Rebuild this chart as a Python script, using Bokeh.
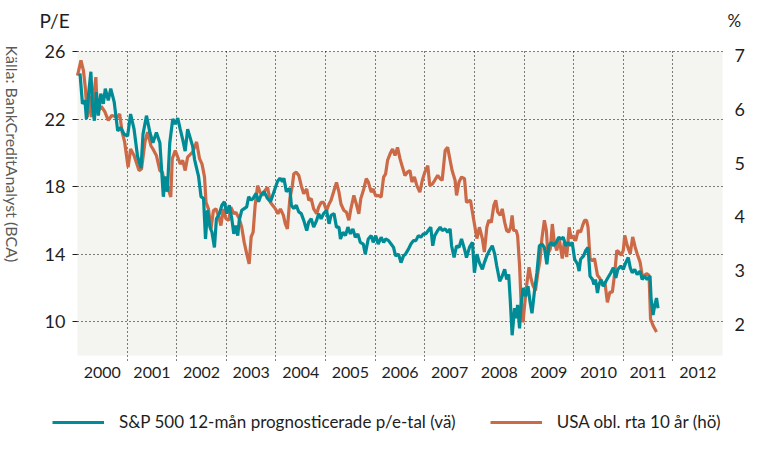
import math
from bokeh.plotting import figure
from bokeh.models import (Range1d, LinearAxis, FixedTicker, Legend, LegendItem, Label,
                          BoxAnnotation)
from bokeh.embed import file_html
from bokeh.resources import INLINE

# ---------------- data ----------------
pe_years = [
    2000.05, 2000.10, 2000.15, 2000.18, 2000.22, 2000.27, 2000.30, 2000.34, 2000.38, 2000.42,
    2000.47, 2000.52, 2000.56, 2000.62, 2000.67, 2000.74, 2000.81, 2000.87, 2000.94, 2001.01,
    2001.07, 2001.14, 2001.21, 2001.28, 2001.32, 2001.39, 2001.46, 2001.52, 2001.59, 2001.66,
    2001.73, 2001.77, 2001.81, 2001.86,
    2001.92, 2001.97, 2002.02, 2002.07, 2002.12, 2002.17, 2002.22, 2002.27, 2002.32, 2002.36,
    2002.40, 2002.44, 2002.49, 2002.54, 2002.58, 2002.62, 2002.67, 2002.71, 2002.76, 2002.80,
    2002.86, 2002.91, 2002.96, 2003.01, 2003.06, 2003.11, 2003.15, 2003.19, 2003.23, 2003.26,
    2003.31, 2003.36, 2003.41, 2003.45, 2003.50, 2003.54, 2003.60, 2003.65, 2003.70, 2003.76,
    2003.83,
    2003.89, 2003.96, 2004.03, 2004.08, 2004.13, 2004.16, 2004.21, 2004.28, 2004.31, 2004.36,
    2004.41, 2004.46, 2004.51, 2004.56, 2004.62, 2004.66, 2004.71, 2004.76, 2004.82, 2004.86,
    2004.91, 2004.96, 2005.02, 2005.07, 2005.11, 2005.17, 2005.22, 2005.27, 2005.30, 2005.35,
    2005.40, 2005.45, 2005.50, 2005.55, 2005.60, 2005.65, 2005.70, 2005.76, 2005.80,
    2005.86, 2005.92, 2005.96, 2006.01, 2006.06, 2006.12, 2006.17, 2006.21, 2006.27, 2006.32,
    2006.37, 2006.41, 2006.47, 2006.52, 2006.57, 2006.61, 2006.67, 2006.72, 2006.77, 2006.82,
    2006.87, 2006.92, 2006.97, 2007.02, 2007.07, 2007.12, 2007.16, 2007.20, 2007.26, 2007.31,
    2007.35, 2007.41, 2007.46, 2007.51, 2007.54, 2007.59, 2007.64, 2007.69, 2007.74, 2007.80,
    2007.84,
    2007.90, 2007.96, 2008.00, 2008.05, 2008.10, 2008.16, 2008.20, 2008.25, 2008.30, 2008.36,
    2008.41, 2008.45, 2008.51, 2008.56, 2008.61, 2008.65, 2008.69, 2008.72, 2008.76, 2008.81,
    2008.84, 2008.87, 2008.91, 2008.94, 2008.98, 2009.03, 2009.08, 2009.12, 2009.16, 2009.21,
    2009.26, 2009.31, 2009.36, 2009.41, 2009.46, 2009.50, 2009.55, 2009.59, 2009.65, 2009.70,
    2009.75, 2009.79,
    2009.84, 2009.89, 2009.93, 2009.97, 2010.02, 2010.08, 2010.11, 2010.14, 2010.20, 2010.24,
    2010.29, 2010.33, 2010.38, 2010.41, 2010.44, 2010.48, 2010.51, 2010.55, 2010.60, 2010.65,
    2010.69, 2010.75, 2010.80, 2010.85, 2010.89, 2010.95, 2011.00, 2011.05, 2011.10, 2011.14,
    2011.18, 2011.23, 2011.28, 2011.34, 2011.38, 2011.43, 2011.48, 2011.54, 2011.56, 2011.60,
    2011.63, 2011.67, 2011.70,
]
pe_values = [
    24.7, 22.9, 23.1, 22.0, 23.4, 24.8, 22.8, 21.9, 23.6, 22.2,
    23.5, 22.9, 23.8, 23.1, 23.8, 23.0, 21.3, 21.5, 21.1, 21.0,
    22.3, 21.4, 19.8, 19.1, 21.1, 22.2, 21.2, 20.6, 21.2, 20.6,
    17.4, 18.6, 17.7, 20.6,
    22.0, 21.7, 22.05, 21.4, 20.8, 20.1, 21.4, 20.9, 20.4, 19.6,
    19.1, 18.6, 17.4, 17.3, 14.9, 16.6, 15.6, 15.3, 14.4, 16.1,
    16.4, 16.9, 17.1, 16.4, 16.9, 16.1, 15.2, 15.7, 15.1, 16.0,
    16.6, 16.7, 16.8, 17.4, 17.2, 17.3, 17.6, 17.1, 17.5, 17.7,
    17.3,
    17.1, 17.7, 18.3, 18.5, 18.3, 18.5, 17.7, 17.9, 16.9, 16.7,
    16.9, 16.5, 16.4, 16.0, 15.4, 15.9, 16.1, 15.6, 16.0, 16.4,
    16.1, 16.4, 16.6, 15.8, 16.3, 16.4, 15.6, 15.6, 14.9, 15.3,
    15.1, 15.6, 15.2, 15.5, 15.0, 15.2, 14.7, 14.6, 14.0,
    14.9, 15.1, 14.7, 15.1, 14.6, 15.0, 14.7, 14.9, 14.8, 14.6,
    14.4, 13.9, 14.0, 13.5, 13.9, 14.0, 14.3, 14.6, 14.8, 14.8,
    15.1, 15.0, 15.2, 15.2, 15.4, 15.6, 14.5, 15.1, 15.4, 15.6,
    15.4, 15.5, 15.3, 15.5, 14.5, 13.8, 14.5, 14.4, 14.9, 14.3,
    13.8,
    14.4, 14.7, 12.9, 14.0, 13.5, 13.1, 13.5, 13.9, 14.2, 14.5,
    14.0, 13.3, 12.4, 12.7, 13.1, 12.5, 12.8, 11.4, 9.2, 10.8,
    10.2, 11.0, 9.6, 11.0, 12.0, 11.5, 12.1, 11.2, 10.5, 11.8,
    12.9, 14.5, 14.6, 14.4, 13.4, 14.5, 14.7, 14.5, 14.7, 15.0,
    14.9, 15.0,
    14.5, 14.7, 14.5, 14.7, 13.7, 13.4, 13.0, 13.7, 13.9, 14.2,
    14.4, 12.7, 12.5, 12.2, 12.5, 11.7, 12.2, 12.5, 12.1, 12.4,
    12.6, 12.9, 13.2, 12.6, 13.1, 13.3, 13.1, 13.5, 13.8, 13.2,
    12.9, 13.1, 12.8, 13.0, 12.5, 12.7, 12.5, 12.7, 11.4, 10.4,
    10.9, 11.4, 10.8,
]

yield_years = [
    2000.00, 2000.07, 2000.12, 2000.16, 2000.20, 2000.25, 2000.28, 2000.37, 2000.40, 2000.48,
    2000.55, 2000.62, 2000.69, 2000.81, 2000.85, 2000.90, 2000.95, 2001.02, 2001.07, 2001.14,
    2001.24, 2001.29, 2001.36, 2001.41, 2001.48, 2001.52, 2001.59, 2001.66, 2001.71, 2001.76,
    2001.81, 2001.88, 2001.91, 2001.97,
    2002.02, 2002.07, 2002.12, 2002.17, 2002.22, 2002.32, 2002.40, 2002.46, 2002.51, 2002.56,
    2002.59, 2002.64, 2002.69, 2002.74, 2002.79, 2002.85, 2002.89, 2002.94, 2002.99, 2003.05,
    2003.09, 2003.15, 2003.19, 2003.26, 2003.31, 2003.36, 2003.41, 2003.46, 2003.50, 2003.54,
    2003.58, 2003.63, 2003.68, 2003.73, 2003.78, 2003.83,
    2003.89, 2003.94, 2003.99, 2004.04, 2004.09, 2004.15, 2004.19, 2004.23, 2004.28, 2004.33,
    2004.36, 2004.41, 2004.46, 2004.51, 2004.56, 2004.62, 2004.66, 2004.71, 2004.76, 2004.82,
    2004.86, 2004.91, 2004.96, 2005.02, 2005.07, 2005.11, 2005.17, 2005.22, 2005.27, 2005.31,
    2005.37, 2005.42, 2005.47, 2005.51, 2005.57, 2005.62, 2005.67, 2005.71, 2005.77, 2005.82,
    2005.86, 2005.92, 2005.96, 2006.01, 2006.06, 2006.12, 2006.17, 2006.21, 2006.25, 2006.30,
    2006.35, 2006.40, 2006.45, 2006.50, 2006.55, 2006.60, 2006.65, 2006.70, 2006.74, 2006.79,
    2006.84, 2006.90, 2006.95, 2007.00, 2007.06, 2007.10, 2007.15, 2007.20, 2007.26, 2007.31,
    2007.35, 2007.41, 2007.46, 2007.51, 2007.55, 2007.61, 2007.64, 2007.69, 2007.74, 2007.80,
    2007.84,
    2007.92, 2007.96, 2008.00, 2008.05, 2008.10, 2008.16, 2008.20, 2008.25, 2008.29, 2008.34,
    2008.39, 2008.43, 2008.47, 2008.52, 2008.56, 2008.61, 2008.65, 2008.69, 2008.73, 2008.76,
    2008.79, 2008.84, 2008.87, 2008.91, 2008.94, 2008.98, 2009.01, 2009.06, 2009.10, 2009.14,
    2009.18, 2009.23, 2009.28, 2009.32, 2009.36, 2009.41, 2009.45, 2009.48, 2009.53, 2009.57,
    2009.61, 2009.66, 2009.71, 2009.77,
    2009.81, 2009.86, 2009.91, 2009.95, 2009.99, 2010.04, 2010.09, 2010.14, 2010.18, 2010.22,
    2010.26, 2010.29, 2010.33, 2010.38, 2010.42, 2010.48, 2010.53, 2010.58, 2010.63, 2010.68,
    2010.73, 2010.78, 2010.83, 2010.87, 2010.91, 2010.96, 2011.00, 2011.03, 2011.08, 2011.14,
    2011.19, 2011.24, 2011.28, 2011.34, 2011.38, 2011.43, 2011.47, 2011.52, 2011.55, 2011.60,
    2011.67,
]
yield_values = [
    6.62, 6.90, 6.71, 6.37, 5.85, 6.25, 5.85, 6.59, 5.94, 6.05,
    5.95, 5.79, 5.88, 5.85, 5.91, 5.57, 5.39, 4.92, 5.26, 5.14,
    4.86, 4.89, 5.39, 5.57, 5.32, 5.26, 5.14, 4.86, 4.83, 4.61,
    4.58, 4.37, 5.08, 5.23,
    5.11, 4.98, 5.05, 4.86, 5.11, 5.20, 5.39, 5.08, 4.98, 4.74,
    4.27, 4.15, 3.78, 4.12, 4.15, 4.00, 3.84, 4.15, 3.97, 3.94,
    4.18, 4.06, 4.09, 3.97, 3.81, 3.53, 3.32, 3.13, 3.63, 3.72,
    4.21, 4.58, 4.46, 4.40, 4.49, 4.55,
    4.27, 4.21, 4.15, 4.06, 4.15, 4.03, 3.87, 3.78, 4.34, 4.58,
    4.80, 4.83, 4.77, 4.58, 4.43, 4.52, 4.31, 4.34, 4.15, 4.06,
    4.18, 4.27, 4.27, 4.12, 4.24, 4.31, 4.49, 4.64, 4.46, 4.24,
    4.12, 4.09, 3.94, 4.15, 4.40, 4.24, 4.06, 4.34, 4.52, 4.71,
    4.65, 4.46, 4.52, 4.39, 4.40, 4.37, 4.74, 4.80, 5.05, 5.17,
    5.26, 5.14, 5.29, 5.08, 4.92, 4.77, 4.83, 4.86, 4.65, 4.74,
    4.58, 4.46, 4.68, 4.83, 4.95, 4.58, 4.61, 4.68, 4.77, 4.71,
    4.68, 5.23, 5.29, 5.05, 4.86, 4.68, 4.40, 4.65, 4.74, 4.71,
    4.27,
    4.31, 4.09, 3.87, 3.60, 3.81, 3.60, 3.35, 3.81, 3.94, 3.90,
    4.21, 4.31, 4.09, 4.03, 4.15, 3.90, 3.75, 3.72, 3.81, 4.03,
    3.75, 3.75, 3.66, 3.10, 2.42, 2.05, 2.36, 2.79, 3.07, 2.86,
    2.73, 2.64, 2.98, 3.19, 3.60, 3.94, 3.75, 3.32, 3.41, 3.87,
    3.53, 3.38, 3.60, 3.23,
    3.53, 3.26, 3.81, 3.60, 3.66, 3.56, 3.75, 3.72, 3.84, 3.94,
    3.94, 3.81, 3.23, 3.19, 3.23, 2.92, 2.86, 2.73, 2.79, 2.42,
    2.61, 2.61, 2.98, 3.38, 3.35, 3.29, 3.38, 3.66, 3.47, 3.32,
    3.63, 3.44, 3.32, 3.16, 2.92, 2.92, 2.95, 2.92, 2.11, 1.99,
    1.87,
]

year_labels = ["2000", "2001", "2002", "2003", "2004", "2005", "2006",
               "2007", "2008", "2009", "2010", "2011", "2012"]
year_starts = [2000, 2001, 2002, 2003, 2004, 2005, 2006, 2007, 2008, 2009, 2010, 2011, 2012]
pe_ticks = [10, 14, 18, 22, 26]
pct_ticks = [2, 3, 4, 5, 6, 7]

series_names = ["S&P 500 12-mån prognosticerade p/e-tal (vä)", "USA obl. rta 10 år (hö)"]
left_title = "P/E"
right_title = "%"
source_note = "Källa: BankCreditAnalyst (BCA)"

# ---------------- layout constants (canvas pixels) ----------------
W, H = 760, 462
PLOT_L, PLOT_R, PLOT_T, PLOT_B = 77, 722, 51, 355
X_LO, X_HI = 2000, 2013
PE_LO, PE_HI = 8, 26
PCT_LO, PCT_HI = 1.435, 7.065


def canvas_range(lo, hi, px_lo, px_hi, px_total):
    """Range whose [lo, hi] maps onto [px_lo, px_hi] of a 0..px_total canvas."""
    k = (px_hi - px_lo) / (hi - lo)
    return Range1d(lo - px_lo / k, hi + (px_total - px_hi) / k)


# ---------------- style ----------------
TEAL = "#008C96"
ORANGE = "#CC6A47"
FONT = "Lato"
TXT = "#1e1e1e"

xr = canvas_range(X_LO, X_HI, PLOT_L, PLOT_R, W)
yr = canvas_range(PE_LO, PE_HI, H - PLOT_B, H - PLOT_T, H)
pr = canvas_range(PCT_LO, PCT_HI, H - PLOT_B, H - PLOT_T, H)

p = figure(width=W, height=H, output_backend="svg", toolbar_location=None,
           x_range=xr, y_range=yr,
           min_border=0, min_border_left=0, min_border_right=0,
           min_border_top=0, min_border_bottom=0,
           background_fill_color="white", border_fill_color="white",
           outline_line_color=None)
p.title.visible = False
p.extra_y_ranges = {"pct": pr}

# plot area background
p.add_layout(BoxAnnotation(left=X_LO, right=X_HI, bottom=PE_LO, top=PE_HI,
                           fill_color="#F4F4F0", fill_alpha=1, line_color=None,
                           level="image"))

r_yield = p.line(yield_years, yield_values, y_range_name="pct", line_color=ORANGE, line_width=3.2)
r_pe = p.line(pe_years, pe_values, line_color=TEAL, line_width=3.2)

# left axis (drawn at the plot-area edge)
ya = p.yaxis[0]
ya.fixed_location = X_LO
ya.ticker = FixedTicker(ticks=pe_ticks)
ya.axis_line_color = None
ya.major_tick_in = 0
ya.major_tick_out = 5
ya.major_tick_line_color = TXT
ya.minor_tick_line_color = None
ya.major_label_standoff = 7
ya.major_label_text_font = FONT
ya.major_label_text_font_size = "18px"
ya.major_label_text_color = TXT

# right axis
ra = LinearAxis(y_range_name="pct", ticker=FixedTicker(ticks=pct_ticks), fixed_location=X_HI)
ra.axis_line_color = None
ra.major_tick_line_color = None
ra.minor_tick_line_color = None
ra.major_tick_in = 0
ra.major_tick_out = 0
ra.major_label_standoff = 12
ra.major_label_text_font = FONT
ra.major_label_text_font_size = "18px"
ra.major_label_text_color = TXT
p.add_layout(ra, "right")

# bottom axis: labels centred in each year
xa = p.xaxis[0]
xa.fixed_location = PE_LO
mids = [y + 0.5 for y in year_starts]
xa.ticker = FixedTicker(ticks=mids)
xa.major_label_overrides = {m: lab for m, lab in zip(mids, year_labels)}
xa.axis_line_color = None
xa.major_tick_line_color = None
xa.minor_tick_line_color = None
xa.major_tick_in = 0
xa.major_tick_out = 0
xa.major_label_standoff = 11
xa.major_label_text_font = FONT
xa.major_label_text_font_size = "16px"
xa.major_label_text_color = TXT

# grids, limited to the plot area
p.xgrid.ticker = FixedTicker(ticks=year_starts[1:])
p.ygrid.ticker = FixedTicker(ticks=pe_ticks)
for g in (p.xgrid[0], p.ygrid[0]):
    g.grid_line_color = "black"
    g.grid_line_dash = "1 3"
    g.grid_line_width = 1
p.xgrid[0].cross_bounds = (PE_LO - 0.3, PE_HI)
p.ygrid[0].cross_bounds = (X_LO, X_HI + 0.05)

# texts around the plot area
p.add_layout(Label(x=39, y=H - 20, x_units="screen", y_units="screen", text=left_title,
                   text_font=FONT, text_font_size="19px", text_color=TXT,
                   text_baseline="middle", text_align="left"))
p.add_layout(Label(x=727, y=H - 20, x_units="screen", y_units="screen", text=right_title,
                   text_font=FONT, text_font_size="17px", text_color=TXT,
                   text_baseline="middle", text_align="left"))
p.add_layout(Label(x=12, y=H - 45, x_units="screen", y_units="screen", text=source_note,
                   angle=-math.pi / 2, text_font=FONT, text_font_size="16px",
                   text_color="#5a5a5a", text_baseline="middle", text_align="left"))

legend = Legend(items=[LegendItem(label=series_names[0], renderers=[r_pe]),
                       LegendItem(label=series_names[1], renderers=[r_yield])],
                location=(52, H - 432), orientation="horizontal", padding=0, margin=0,
                spacing=34, glyph_width=52, glyph_height=20, label_standoff=15,
                border_line_color=None, background_fill_alpha=0,
                label_text_font=FONT, label_text_font_size="17px", label_text_color=TXT)
p.add_layout(legend)

open("out.html", "w").write(file_html(p, INLINE))
